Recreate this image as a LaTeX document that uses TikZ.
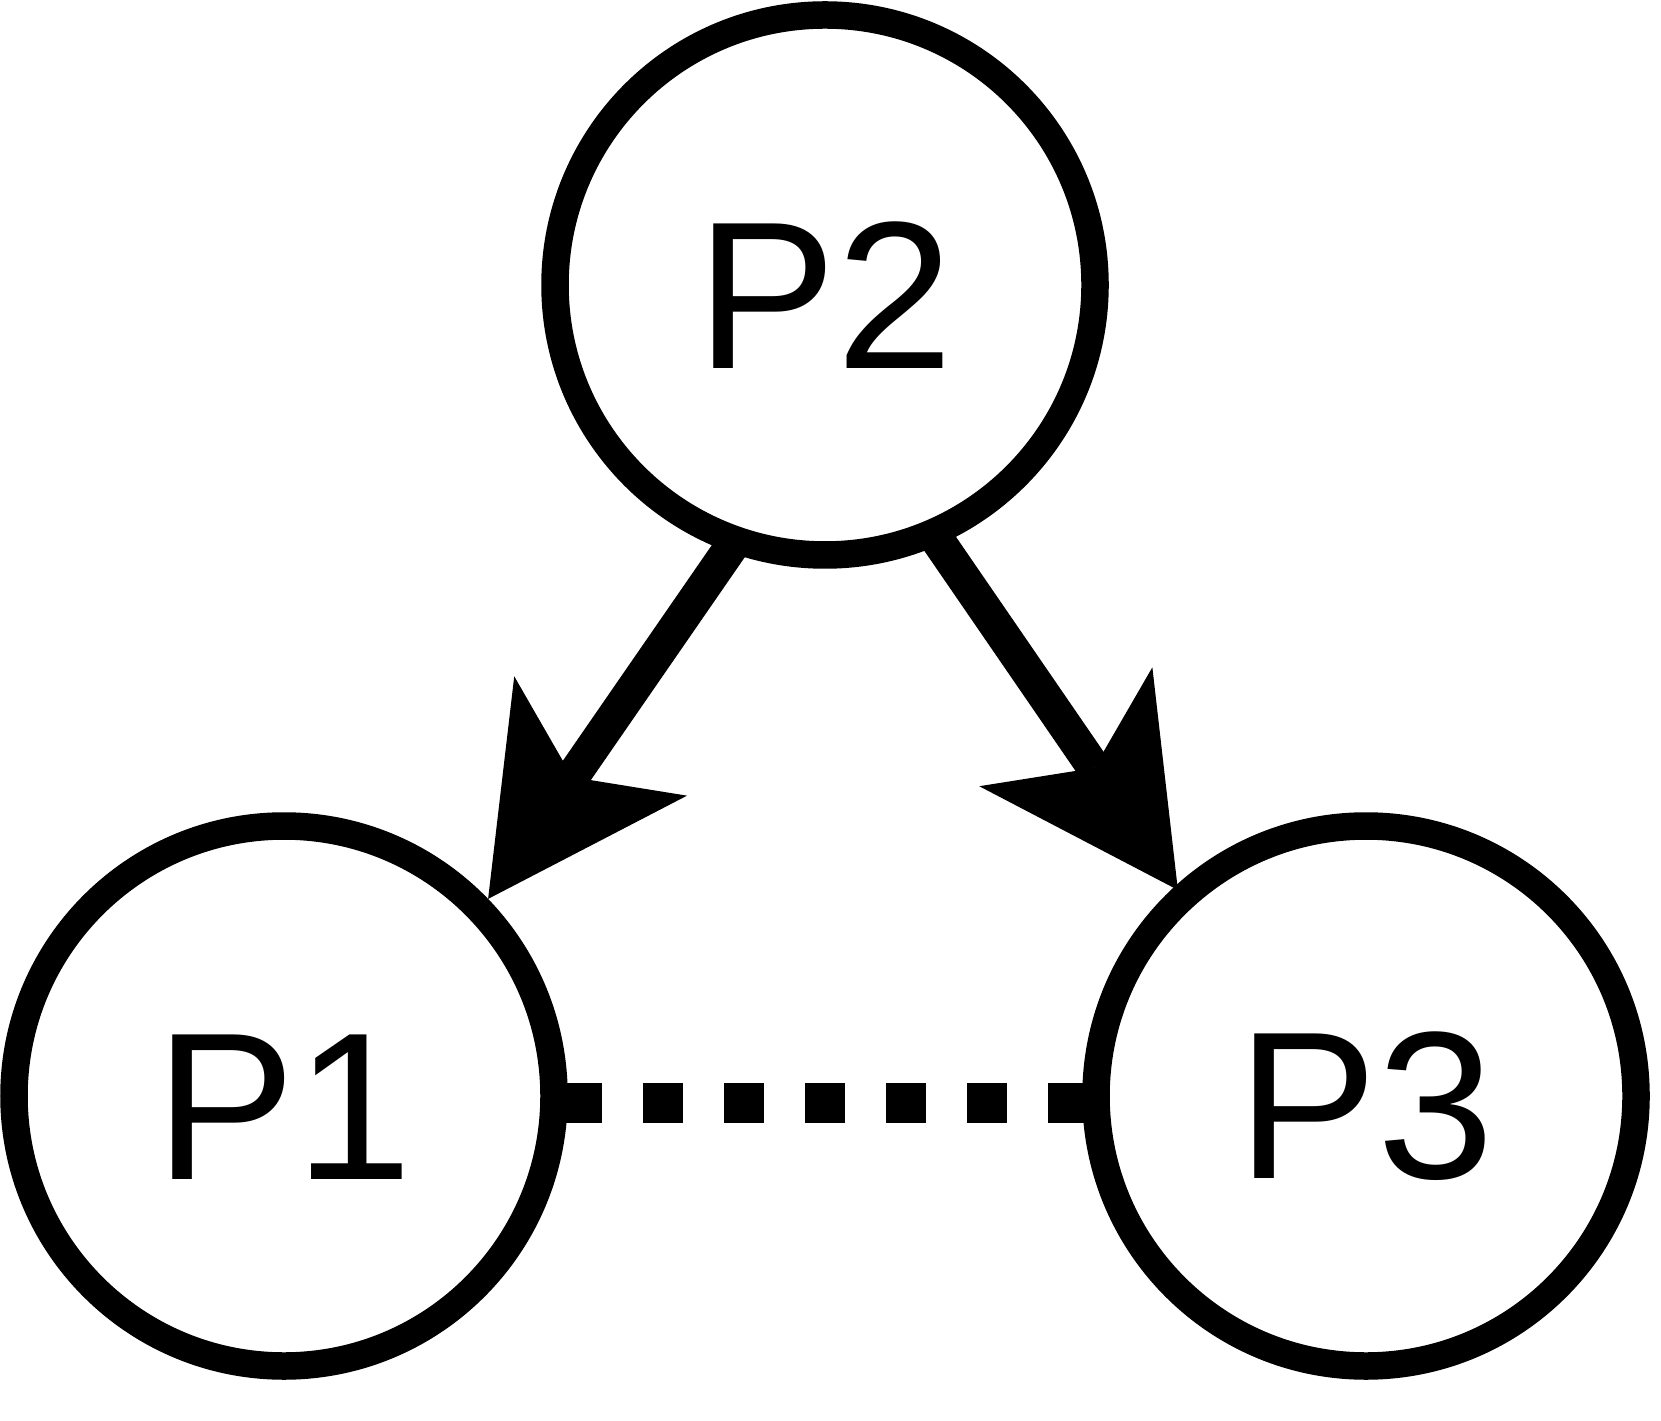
\documentclass[tikz,border=0pt]{standalone}
\usepackage{fontspec}
\setmainfont{Liberation Sans}
\usepackage{tikz}
\usetikzlibrary{arrows.meta,positioning,calc,backgrounds}

\tikzset{
    proc/.style={circle, draw=black, fill=white, line width=0.275cm,
        minimum size=5.4cm, inner sep=0pt, text height=1.67cm,
        font=\fontsize{59.8pt}{72pt}\selectfont},
    flow/.style={line width=0.34cm,
        -{Stealth[length=1.98cm, width=2.1cm, inset=0.5cm, line width=0pt]}},
    link/.style={line width=0.40cm, dash pattern=on 0.40cm off 0.41cm,
        dash phase=0.46cm}
}

\begin{document}
\begin{tikzpicture}

                % Canvas
                \useasboundingbox (0,0) rectangle (16.61,14.20);

                % Processes
                \node[proc] (p2) at (8.25,11.35) {P2};
                \node[proc] (p1) at (2.84,3.24) {P1};
                \node[proc] (p3) at (13.66,3.24) {P3};

                % Arrow tip on P3
                \coordinate (t3) at ($(p3.center)+(132.4:2.79)$);

                % Connectors go behind the circles
                \begin{scope}[on background layer]
                    % Arrows from P2
                    \draw[flow] ($(p2.250)!-0.35cm!(p1.44)$) -- (p1.44);
                    \draw[flow] ($(p2.294)!-0.35cm!(t3)$) -- (t3);

                    % Dotted link between P1 and P3
                    \draw[link] ([yshift=-0.07cm]p1.center) -- ([yshift=-0.07cm]p3.center);
                \end{scope}
            \end{tikzpicture}
\end{document}
